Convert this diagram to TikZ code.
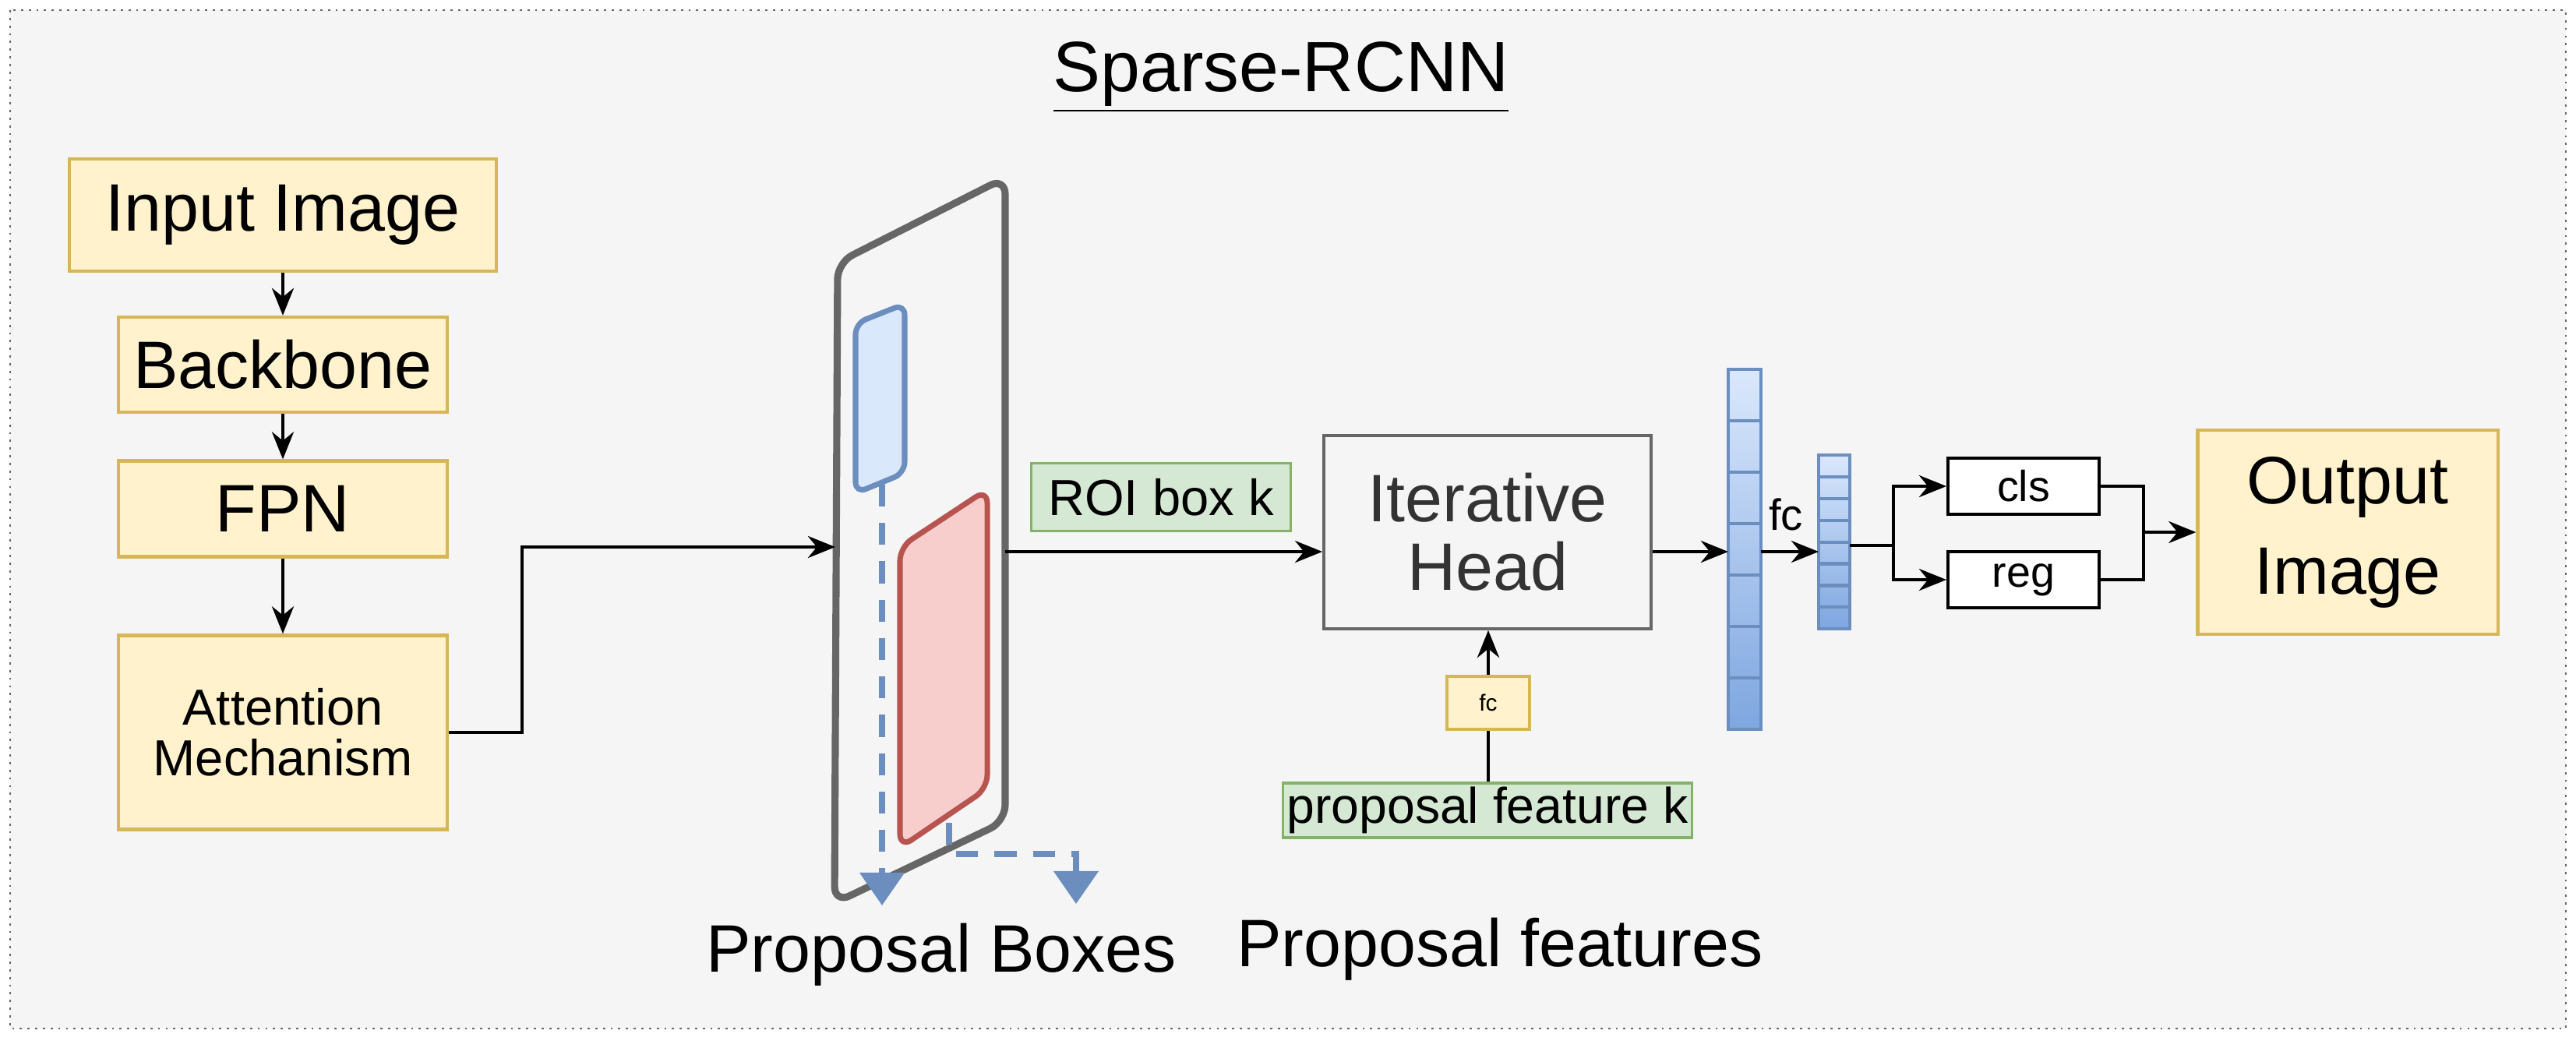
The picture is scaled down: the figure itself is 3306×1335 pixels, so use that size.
\documentclass[tikz,border=0pt]{standalone}
\usepackage{fontspec}
\setmainfont{Liberation Sans}
\usetikzlibrary{arrows.meta,calc}
\definecolor{bg}{HTML}{F5F5F5}
\definecolor{yf}{HTML}{FFF2CC}\definecolor{ys}{HTML}{D6B656}
\definecolor{gf}{HTML}{D5E8D4}\definecolor{gs}{HTML}{82B366}
\definecolor{bf}{HTML}{DAE8FC}\definecolor{bs}{HTML}{6C8EBF}\definecolor{bd}{HTML}{7EA6E0}
\definecolor{rf}{HTML}{F8CECC}\definecolor{rs}{HTML}{B85450}
\definecolor{gr}{HTML}{666666}
\newcommand{\fs}[1]{\fontsize{#1}{#1}\selectfont}
\begin{document}
\begin{tikzpicture}[x=0.01cm,y=-0.01cm,
 yb/.style={draw=ys,fill=yf,line width=1.2pt,inner sep=0},
 gb/.style={draw=gs,fill=gf,line width=1pt,inner sep=0},
 arr/.style={-{Stealth[length=10pt,width=8pt]},line width=1.1pt},
 ln/.style={line width=1.1pt},
 bar/.style={draw=bs,line width=1.2pt,top color=bf,bottom color=bd},
 bda/.style={draw=bs,line width=2.2pt,dash pattern=on 8pt off 6pt,-{Triangle[length=12pt,width=16pt]}}]
\useasboundingbox (0,0) rectangle (3306,1335);
\fill[bg] (13,13) rectangle (3293,1320);
\draw[gr,line width=0.8pt,dotted] (13,13) rectangle (3293,1320);
\node (title) at (1644,99) {\fs{26}\underline{Sparse-RCNN}};
\node[yb,minimum width=5.48cm,minimum height=1.44cm] (in) at (363,276) {\fs{24.5}Input Image};
\node[yb,minimum width=4.21cm,minimum height=1.22cm] (bb) at (363,468) {\fs{24.5}Backbone};
\node[yb,minimum width=4.21cm,minimum height=1.23cm] (fpn) at (363,653) {\fs{24.5}FPN};
\node[yb,minimum width=4.21cm,minimum height=2.49cm,align=center] (att) at (363,940) {\fs{18.5}Attention\\[4pt]\fs{18.5}Mechanism};
\draw[arr] (in) -- (bb);
\draw[arr] (bb) -- (fpn);
\draw[arr] (fpn) -- (att);
% parallelogram
\draw[gr,line width=2.6pt,fill=bg,rounded corners=6pt] (1075,337) -- (1290,228) -- (1290,1054) -- (1071,1159) -- cycle;
\coordinate (pin) at (1072,702);
\coordinate (pout) at (1290,708);
\draw[arr] (att.east) -| (670,702) -- (pin);
\draw[bs,fill=bf,line width=2pt,rounded corners=4pt] (1098,415) -- (1161,390) -- (1161,607) -- (1098,633) -- cycle;
\draw[rs,fill=rf,line width=2pt,rounded corners=5pt] (1155,702) -- (1267,628) -- (1267,1012) -- (1155,1088) -- cycle;
\draw[bda] (1132,622) -- (1132,1162);
\draw[bda] (1218,1056) -- (1218,1096) -- (1381,1096) -- (1381,1160);
\node at (1208,1225) {\fs{24.5}Proposal Boxes};
\node at (1925,1218) {\fs{24.5}Proposal features};
\node[gb,minimum width=3.33cm,minimum height=0.87cm] (roi) at (1490,638) {\fs{18.5}ROI box k};
\node[draw=gr,fill=bg,line width=1pt,minimum width=4.2cm,minimum height=2.48cm,align=center,text=black!80] (ih) at (1909,683) {\fs{24.5}Iterative\\[6pt]\fs{24.5}Head};
\draw[arr] (pout) -- (ih.west|-pout);
\node[yb,minimum width=1.06cm,minimum height=0.68cm] (fc) at (1910,902) {\fs{8.5}fc};
\node[gb,minimum width=5.25cm,minimum height=0.7cm] (pf) at (1909,1040) {\fs{18.3}proposal feature k};
\draw[ln] (pf.north-|fc) -- (fc.south);
\draw[arr] (fc.north) -- (fc.north|-ih.south);
% bars
\shade[bar] (2218,474) rectangle (2260,936);
\foreach \i in {1,...,6} \draw[bs,line width=1.2pt] (2218,{474+\i*66}) -- (2260,{474+\i*66});
\shade[bar] (2334,584) rectangle (2374,807);
\foreach \i in {1,...,7} \draw[bs,line width=1.2pt] (2334,{584+\i*27.9}) -- (2374,{584+\i*27.9});
\coordinate (b1l) at (2218,708); \coordinate (b1r) at (2260,708);
\coordinate (b2l) at (2334,708); \coordinate (b2r) at (2374,700);
\draw[arr] (ih.east|-b1l) -- (b1l);
\draw[arr] (b1r) -- (b2l);
\node at (2292,660) {\fs{16}fc};
\node[draw,fill=white,line width=1.1pt,minimum width=1.94cm,minimum height=0.72cm] (cls) at (2597,624) {\fs{15.8}cls};
\node[draw,fill=white,line width=1.1pt,minimum width=1.94cm,minimum height=0.72cm] (reg) at (2597,744) {\fs{15.8}reg};
\draw[ln] (b2r) -- (2430,700);
\draw[arr] (2430,700) |- (cls.west);
\draw[arr] (2430,700) |- (reg.west);
\node[yb,minimum width=3.85cm,minimum height=2.62cm,align=center] (out) at (3013,683) {\fs{24.5}Output\\[10pt]\fs{24.5}Image};
\draw[ln] (cls.east) -| (2751,683);
\draw[ln] (reg.east) -| (2751,683);
\draw[arr] (2751,683) -- (out.west);
\end{tikzpicture}
\end{document}
